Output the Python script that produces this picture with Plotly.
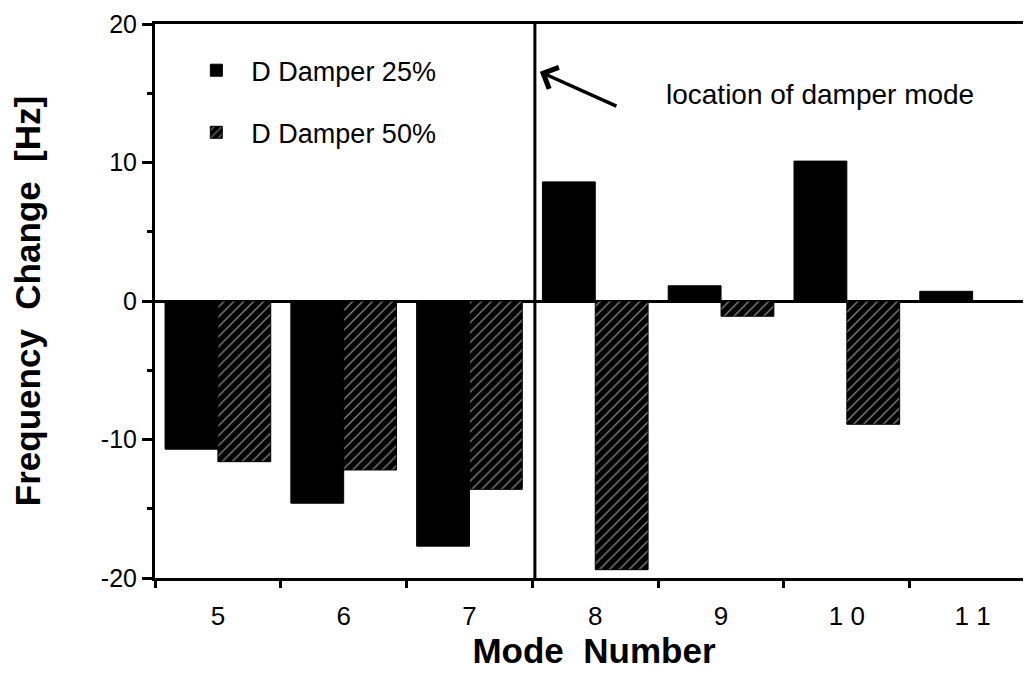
import plotly.graph_objects as go

# mode numbers and frequency change [Hz]
modes = ["5", "6", "7", "8", "9", "10", "11"]
mode_labels = ["5", "6", "7", "8", "9", "1 0", "1 1"]
damper_25 = [-10.7, -14.6, -17.7, 8.6, 1.1, 10.1, 0.7]
damper_50 = [-11.6, -12.2, -13.6, -19.4, -1.1, -8.9, 0.0]
y_ticks = [-20, -10, 0, 10, 20]
y_tick_labels = ["-20", "-10", "0", "10", "20"]

FONT = "Liberation Sans, Arial, Helvetica, sans-serif"

fig = go.Figure()
fig.add_trace(go.Bar(
    x=modes, y=damper_25, name="D Damper 25%", legendgroup="a",
    marker=dict(color="black", line=dict(color="black", width=1)),
))
fig.add_trace(go.Bar(
    x=modes, y=damper_50, name="D Damper 50%", legendgroup="b",
    marker=dict(
        color="black",
        line=dict(color="black", width=1),
        pattern=dict(shape="/", bgcolor="black", fgcolor="white", size=7, solidity=0.2),
    ),
))

# vertical separator marking the damper mode location
fig.add_shape(type="line", xref="x", yref="paper", x0=2.52, x1=2.52, y0=0, y1=1,
              line=dict(color="black", width=3))

fig.add_annotation(x=2.56, y=16.55, xref="x", yref="y", ax=78, ay=35,
                   text="", showarrow=True, arrowhead=4, arrowsize=1.3,
                   arrowwidth=3.5, arrowcolor="black")
fig.add_annotation(x=3.55, y=14.9, xref="x", yref="y", xanchor="left",
                   text="location of damper mode", showarrow=False,
                   font=dict(size=28, color="black", family=FONT))

fig.update_layout(
    width=1031, height=677,
    margin=dict(l=147, r=6, t=16, b=107),
    paper_bgcolor="white", plot_bgcolor="white",
    font=dict(family=FONT, color="black", size=26),
    barmode="group", bargap=0.16, bargroupgap=0,
    showlegend=True,
    legend=dict(x=0.03, y=0.96, xanchor="left", yanchor="top",
                bgcolor="rgba(0,0,0,0)", font=dict(size=27),
                traceorder="grouped", tracegroupgap=24, itemwidth=60),
)
fig.update_xaxes(
    type="category", range=[-0.5, 6.48], automargin=False,
    tickvals=modes, ticktext=mode_labels,
    showline=True, linecolor="black", linewidth=3, mirror=True,
    ticks="outside", tickson="boundaries", ticklen=7, tickwidth=2.5, tickcolor="black",
    ticklabelstandoff=13, showgrid=False,
    tickfont=dict(size=26),
    title=dict(text="<b>Mode  Number</b>", font=dict(size=35), standoff=8),
)
fig.update_yaxes(
    range=[-20, 20], tickvals=y_ticks, ticktext=y_tick_labels, automargin=False,
    showline=True, linecolor="black", linewidth=3,
    ticks="outside", ticklen=10, tickwidth=2.5, tickcolor="black",
    minor=dict(dtick=5, ticks="outside", ticklen=5, tickwidth=2.5, tickcolor="black"),
    zeroline=True, zerolinecolor="black", zerolinewidth=3,
    showgrid=False, tickfont=dict(size=25), ticklabeloverflow="allow",
    title=dict(text="<b>Frequency  Change  [Hz]</b>", font=dict(size=35), standoff=52),
)

fig.write_html("out.html")
